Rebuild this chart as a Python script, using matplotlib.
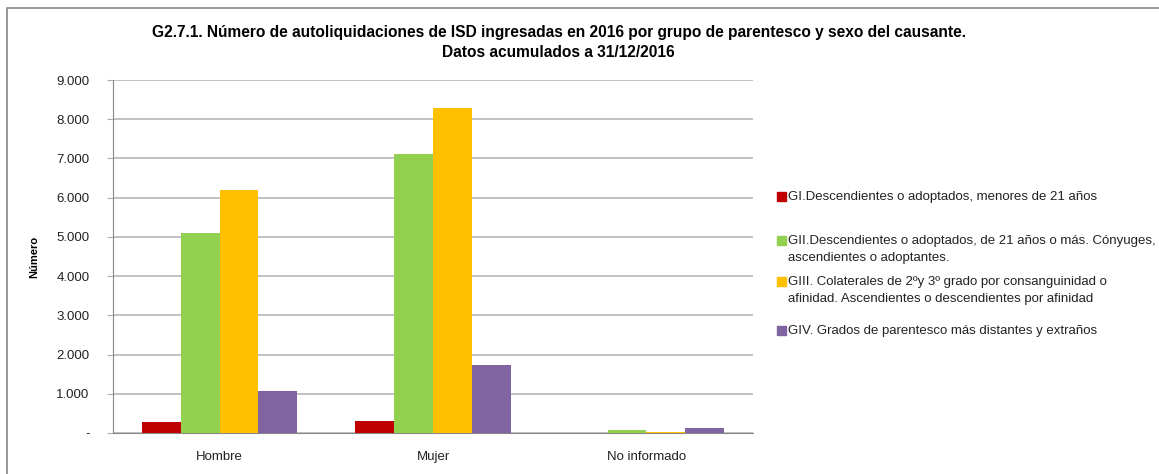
import numpy as np
import matplotlib
matplotlib.use("Agg")
import matplotlib.pyplot as plt
from matplotlib.patches import Rectangle
from matplotlib.ticker import FuncFormatter

plt.rcParams['font.family'] = ['Liberation Sans', 'DejaVu Sans']

# ---------------  Data  ------------
categorias = ['Hombre', 'Mujer', 'No informado']
grupos = [
    'GI.Descendientes o adoptados, menores de 21 años',
    'GII.Descendientes o adoptados, de 21 años o más. Cónyuges,\nascendientes o adoptantes.',
    'GIII. Colaterales de 2ºy 3º grado por consanguinidad o\nafinidad. Ascendientes o descendientes por afinidad',
    'GIV. Grados de parentesco más distantes y extraños',
]
gi = [290, 310, 10]
gii = [5100, 7120, 70]
giii = [6200, 8290, 30]
giv = [1070, 1730, 130]
colores = ['#C00000', '#92D050', '#FFC000', '#8064A2']

series = [gi, gii, giii, giv]

# ---------------  Figure  ------------
fig = plt.figure(figsize=(11.59, 4.74), dpi=100)
ax = fig.add_axes([0.0975, 0.0865, 0.5522, 0.7447])

x = np.arange(len(categorias))
ancho = 0.182
for i, (vals, col) in enumerate(zip(series, colores)):
    ax.bar(x + (i - 1.5) * ancho, vals, width=ancho, color=col, zorder=3)

ax.set_xlim(-0.5, 2.5)
ax.set_ylim(0, 9000)
ax.set_yticks(np.arange(0, 9001, 1000))
ax.yaxis.set_major_formatter(FuncFormatter(
    lambda v, p: '-' if v == 0 else f'{int(v):,}'.replace(',', '.')))
ax.set_xticks(x)
ax.set_xticklabels(categorias, fontsize=9.5)
ax.tick_params(axis='x', length=0, pad=13, colors='#222222')
ax.tick_params(axis='y', length=4, color='#B0B0B0', labelsize=9.5, pad=13, labelcolor='#222222')
ax.grid(axis='y', color='#B8B8B8', linewidth=1.2, zorder=0)
for s in ['top', 'right']:
    ax.spines[s].set_visible(False)
ax.spines['left'].set_color('#888888')
ax.spines['bottom'].set_color('#888888')
ax.set_ylabel('Número', fontsize=8, fontweight='bold', labelpad=12)

# Title
titulo = ('G2.7.1. Número de autoliquidaciones de ISD ingresadas en 2016 por grupo de parentesco y sexo del causante.\n'
          'Datos acumulados a 31/12/2016')
fig.text(0.482, 0.911, titulo, ha='center', va='center', fontsize=11.2,
         fontweight='bold', linespacing=1.4)

# Legend, one entry at a time (marker level with the first text line)
y_items = [0.5865, 0.4937, 0.4072, 0.3038]
for lab, col, yy in zip(grupos, colores, y_items):
    fig.patches.append(Rectangle((0.6705, yy - 0.010), 0.0078, 0.019,
                                 transform=fig.transFigure, color=col))
    fig.text(0.6795, yy + 0.0105, lab, ha='left', va='top', fontsize=9.5,
             linespacing=1.5, color='#222222')

# Frame around the chart
fig.patches.append(Rectangle((0.006, -0.05), 1.2, 1.033, transform=fig.transFigure,
                             fill=False, edgecolor='#888888', linewidth=1.2))

fig.savefig('out.png', dpi=100)
